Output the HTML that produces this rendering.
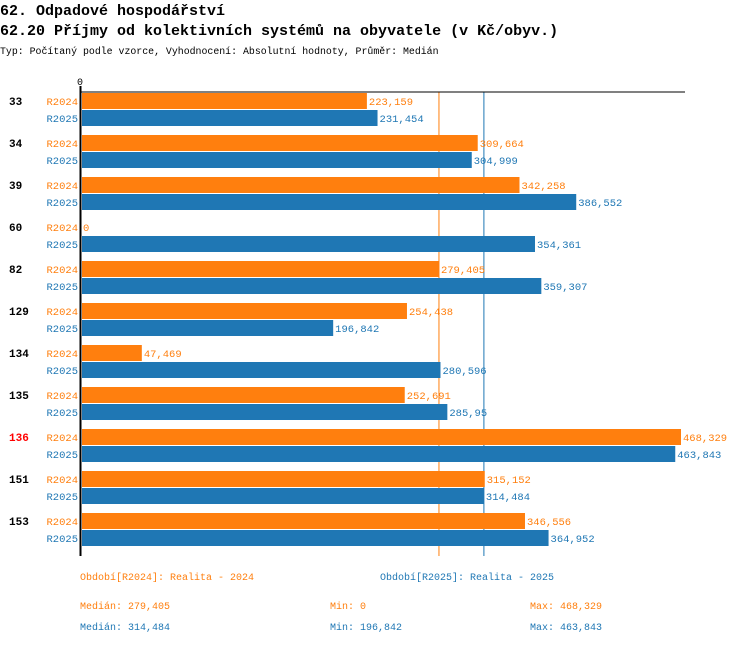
<!DOCTYPE html>
<html><head><meta charset="utf-8"><style>
body{margin:0;background:#fff;width:750px;height:644px;overflow:hidden;font-family:"Liberation Mono",monospace}
svg text{font-family:"Liberation Mono",monospace}
</style></head><body>
<svg width="750" height="644">
<text x="0" y="15" font-size="15" font-weight="bold" fill="#000">62. Odpadové hospodářství</text>
<text x="0" y="35" font-size="15" font-weight="bold" fill="#000">62.20 Příjmy od kolektivních systémů na obyvatele (v Kč/obyv.)</text>
<text x="0" y="54" font-size="9.9" fill="#000">Typ: Počítaný podle vzorce, Vyhodnocení: Absolutní hodnoty, Průměr: Medián</text>
<g id="plot"></g>
<text x="80" y="580" font-size="10" fill="#ff7f0e">Období[R2024]: Realita - 2024</text>
<text x="380" y="580" font-size="10" fill="#1f77b4">Období[R2025]: Realita - 2025</text>
<text x="80" y="609" font-size="10" fill="#ff7f0e">Medián: 279,405</text>
<text x="330" y="609" font-size="10" fill="#ff7f0e">Min: 0</text>
<text x="530" y="609" font-size="10" fill="#ff7f0e">Max: 468,329</text>
<text x="80" y="630" font-size="10" fill="#1f77b4">Medián: 314,484</text>
<text x="330" y="630" font-size="10" fill="#1f77b4">Min: 196,842</text>
<text x="530" y="630" font-size="10" fill="#1f77b4">Max: 463,843</text>
</svg>
<script>
const categories=["33","34","39","60","82","129","134","135","136","151","153"];
const values2024=[223159,309664,342258,0,279405,254438,47469,252691,468329,315152,346556];
const values2025=[231454,304999,386552,354361,359307,196842,280596,285950,463843,314484,364952];
const labels2024=["223,159","309,664","342,258","0","279,405","254,438","47,469","252,691","468,329","315,152","346,556"];
const labels2025=["231,454","304,999","386,552","354,361","359,307","196,842","280,596","285,95","463,843","314,484","364,952"];
const medians=[279405,314484];
const highlight="136";
const NS="http://www.w3.org/2000/svg";
const g=document.getElementById('plot');
const x0=81,maxV=468329,xMax=681;
const xs=v=>x0+v*(xMax-x0)/maxV;
const y0=93,pitch=42;
function el(t,a){const e=document.createElementNS(NS,t);for(const k in a)e.setAttribute(k,a[k]);g.appendChild(e);return e;}
const cols=["#ff7f0e","#1f77b4"];
medians.forEach((m,i)=>{const l=el('line',{x1:xs(m),x2:xs(m),y1:92,y2:556,stroke:cols[i],'stroke-width':1});

});
categories.forEach((c,i)=>{
 const y=y0+i*pitch;
 const t=el('text',{x:9,y:y+12,'font-size':11,'font-weight':'bold',fill:c===highlight?'#f00':'#000'});t.textContent=c;
 
 
 [[values2024,labels2024,'R2024'],[values2025,labels2025,'R2025']].forEach((s,j)=>{
  const yy=y+j*17;
  const lt=el('text',{x:78,y:yy+12,'font-size':10.5,fill:cols[j],'text-anchor':'end'});lt.textContent=s[2];
  
  
  const w=xs(s[0][i])-x0;
  const r=el('rect',{x:x0+1,y:yy,width:Math.max(0,w-1),height:16,fill:cols[j]});
  
  
  const vt=el('text',{x:x0+w+2,y:yy+12,'font-size':10.5,fill:cols[j]});vt.textContent=s[1][i];
  
  
 });
});
const ax=el('line',{x1:80,x2:685,y1:92,y2:92,stroke:'#000','stroke-width':1});


const ay=el('line',{x1:80.5,x2:80.5,y1:86,y2:556,stroke:'#000','stroke-width':2});


const z=el('text',{x:80,y:85,'font-size':10,fill:'#000','text-anchor':'middle'});z.textContent='0';


</script>
</body></html>
